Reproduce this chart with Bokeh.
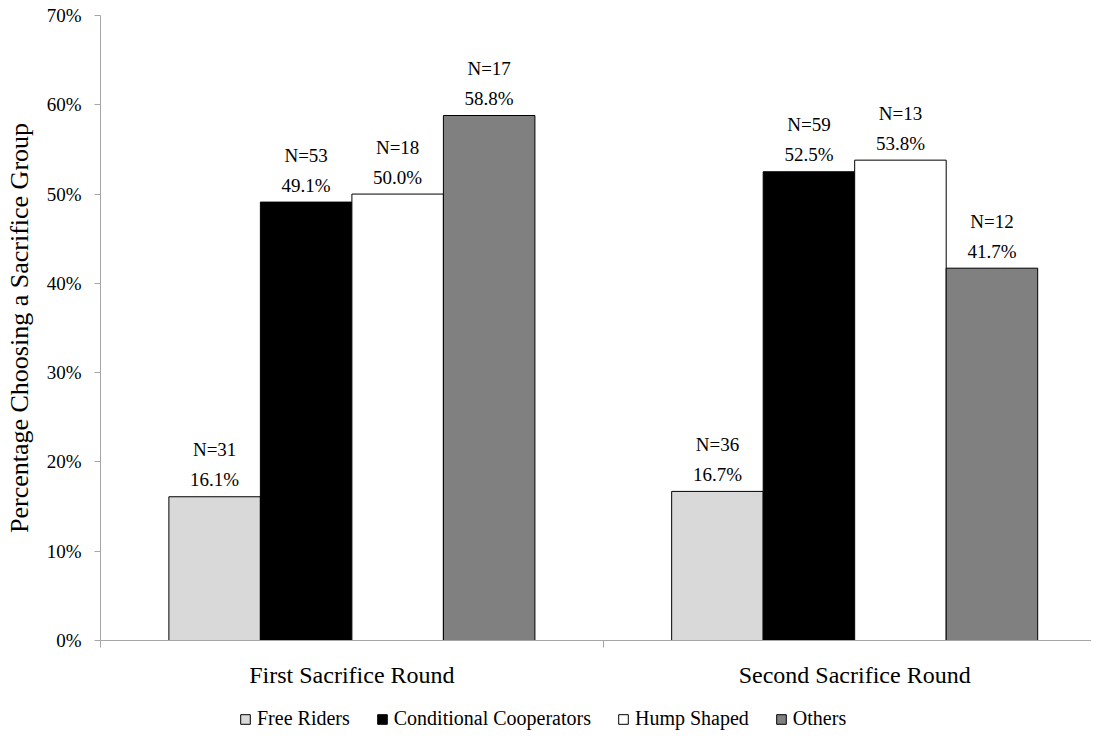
from bokeh.plotting import figure
from bokeh.layouts import column
from bokeh.models import (Range1d, FixedTicker, LinearAxis, Legend, LegendItem,
                          ColumnDataSource, PrintfTickFormatter, LabelSet)
from bokeh.core.properties import value
from bokeh.embed import file_html
from bokeh.resources import INLINE

# ---- data ----
rounds = ["First Sacrifice Round", "Second Sacrifice Round"]
types = ["Free Riders", "Conditional Cooperators", "Hump Shaped", "Others"]
pct_free = [16.1, 16.7]
pct_cond = [49.1, 52.5]
pct_hump = [50.0, 53.8]
pct_other = [58.8, 41.7]
n_free = [31, 36]
n_cond = [53, 59]
n_hump = [18, 13]
n_other = [17, 12]
y_ticks = [0, 10, 20, 30, 40, 50, 60, 70]

series_pct = [pct_free, pct_cond, pct_hump, pct_other]
series_n = [n_free, n_cond, n_hump, n_other]
colors = ["#D9D9D9", "#000000", "#FFFFFF", "#808080"]

FONT = "Liberation Serif"
AXIS_GREY = "#A6A6A6"
BAR_W = 0.182

p = figure(width=1091, height=690, output_backend="svg", toolbar_location=None,
           x_range=Range1d(0, 1.971), y_range=Range1d(0, 70),
           x_axis_type=None, y_axis_type=None,
           min_border_left=100, min_border_top=15, min_border_bottom=50, min_border_right=0)
p.outline_line_color = None
p.background_fill_color = "white"
p.border_fill_color = "white"

# y axis
yaxis = LinearAxis(ticker=FixedTicker(ticks=y_ticks),
                   formatter=PrintfTickFormatter(format="%d%%"),
                   axis_label="Percentage Choosing a Sacrifice Group")
yaxis.axis_line_color = AXIS_GREY
yaxis.major_tick_line_color = AXIS_GREY
yaxis.major_tick_out = 6
yaxis.major_tick_in = 0
yaxis.minor_tick_line_color = None
yaxis.major_label_standoff = 13
yaxis.major_label_text_font = FONT
yaxis.major_label_text_font_size = "19px"
yaxis.major_label_text_color = "black"
yaxis.axis_label_text_font = FONT
yaxis.axis_label_text_font_size = "26px"
yaxis.axis_label_text_font_style = "normal"
yaxis.axis_label_text_color = "black"
yaxis.axis_label_standoff = 10
p.add_layout(yaxis, "left")

# x axis: labels at group centres, ticks at group boundaries
centers = [i + 0.5 for i in range(len(rounds))]
bounds = [float(i) for i in range(len(rounds) + 1)]
xaxis = LinearAxis(ticker=FixedTicker(ticks=centers, minor_ticks=bounds))
xaxis.major_label_overrides = {c: r for c, r in zip(centers, rounds)}
xaxis.axis_line_color = AXIS_GREY
xaxis.major_tick_line_color = None
xaxis.minor_tick_line_color = AXIS_GREY
xaxis.minor_tick_out = 7
xaxis.minor_tick_in = 0
xaxis.major_tick_out = 7
xaxis.major_label_standoff = 14
xaxis.major_label_text_font = FONT
xaxis.major_label_text_font_size = "24px"
xaxis.major_label_text_color = "black"
p.add_layout(xaxis, "below")

# legend strip (separate small figure under the chart); its ranges keep the
# shared bars out of view so only the legend keys show
q = figure(width=1091, height=40, output_backend="svg", toolbar_location=None,
           x_range=Range1d(10, 11), y_range=Range1d(100, 101),
           x_axis_type=None, y_axis_type=None, min_border=0)
q.outline_line_color = None
q.background_fill_color = "white"
q.border_fill_color = "white"

items = []
for k, (name, pct, ns, col) in enumerate(zip(types, series_pct, series_n, colors)):
    xs = [c + (k - 1.5) * BAR_W for c in centers]
    src = ColumnDataSource(dict(x=xs, top=pct,
                                plab=[f"{v:.1f}%" for v in pct],
                                nlab=[f"N={n}" for n in ns]))
    p.vbar(x="x", top="top", width=BAR_W, bottom=0, source=src,
           fill_color=col, line_color="black", line_width=1)
    for col_name, off in (("plab", 17), ("nlab", 47)):
        ls = LabelSet(x="x", y="top", text=col_name, source=src,
                      y_offset=off, text_align="center", text_baseline="middle",
                      text_font=value(FONT), text_font_size=value("19px"),
                      text_color="black")
        p.add_layout(ls)
    key = q.vbar(x="x", top="top", width=BAR_W, bottom=0, source=src,
                 fill_color=col, line_color="black", line_width=1)
    items.append(LegendItem(label=name, renderers=[key]))

legend = Legend(items=items, orientation="horizontal", location=(139, 0),
                border_line_color=None, background_fill_alpha=0,
                glyph_width=12, glyph_height=12, label_standoff=6, spacing=26,
                padding=0, margin=0,
                label_text_font=FONT, label_text_font_size="20px",
                label_text_color="black")
q.add_layout(legend, "center")

layout = column(p, q, spacing=0)
open("out.html", "w").write(file_html(layout, INLINE))
